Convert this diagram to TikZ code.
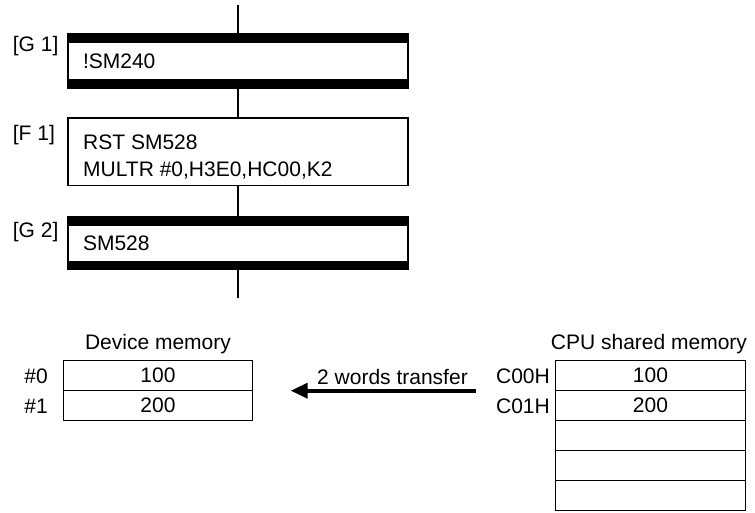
\documentclass[tikz,border=0pt]{standalone}
\usepackage{fontspec}
\setmainfont{Liberation Sans}
\usetikzlibrary{arrows.meta}
\begin{document}
\begin{tikzpicture}[x=1pt,y=-1pt,
  every node/.style={font=\fontsize{21}{27.6}\selectfont, inner sep=0pt},
  flowline/.style={line width=2pt},
  stepbox/.style={draw, line width=1.3pt, minimum width=340pt, text width=310pt,
    align=left, inner xsep=15pt, inner ysep=0pt},
  condbox/.style={stepbox, minimum height=54pt,
    path picture={\fill (path picture bounding box.north west) rectangle ([yshift=-9pt]path picture bounding box.north east);
                  \fill (path picture bounding box.south west) rectangle ([yshift=9pt]path picture bounding box.south east);}},
  cell/.style={draw, line width=1pt, minimum width=189.4pt, minimum height=30pt},
  transfer/.style={line width=3.7pt, -{Triangle[length=17pt,width=15pt]}}
]
\useasboundingbox (0,0) rectangle (755,512);

% flow chart
\node[condbox] (g1) at (238,61) {!SM240};
\node[stepbox, minimum height=67.5pt] (f1) at (238,151.6) {};
\node[anchor=base west, align=left] (f1t) at (83,176.6) {RST SM528\\MULTR \#0,H3E0,HC00,K2};
\node[condbox, minimum height=53pt] (g2) at (238,243) {SM528};
\coordinate (top) at (238,5);
\coordinate (bot) at (238,298);
\draw[flowline] (top) -- (g1.north);
\draw[flowline] (g1.south) -- (f1.north);
\draw[flowline] (f1.south) -- (g2.north);
\draw[flowline] (g2.south) -- (bot);

\node[anchor=base west] (lg1) at (12.7,51.5) {[G 1]};
\node[anchor=base west] (lf1) at (12.7,140) {[F 1]};
\node[anchor=base west] (lg2) at (12.7,237) {[G 2]};

% device memory
\node[anchor=base] (dt) at (158,349.5) {Device memory};
\node[cell] (d0) at (158,375.7) {100};
\node[cell] (d1) at (158,405.7) {200};
\node[anchor=east] (ld0) at (48,376.7) {\#0};
\node[anchor=east] (ld1) at (48,406.5) {\#1};

% CPU shared memory
\node[anchor=base] (ct) at (649,349) {CPU shared memory};
\node[cell] (c0) at (650.5,375.7) {100};
\node[cell] (c1) at (650.5,405.7) {200};
\node[cell] (c2) at (650.5,435.7) {};
\node[cell] (c3) at (650.5,465.7) {};
\node[cell] (c4) at (650.5,495.7) {};
\node[anchor=east] (lc0) at (550,376.7) {C00H};
\node[anchor=east] (lc1) at (550,406.5) {C01H};

% transfer arrow
\coordinate (as) at (476,390.7);
\coordinate (ae) at (290.7,390.7);
\draw[transfer] (as) -- (ae);
\node[anchor=base] (tl) at (392.5,384.5) {2 words transfer};
\end{tikzpicture}
\end{document}
